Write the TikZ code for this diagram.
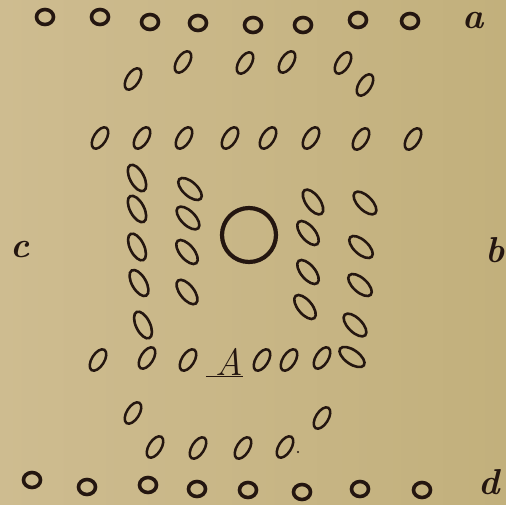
\documentclass[tikz,border=0pt]{standalone}
\usepackage{xcolor}
\usepackage{tikz}
\usetikzlibrary{shapes.geometric, positioning}

\definecolor{paper}{RGB}{206,188,144}
\definecolor{paperdark}{RGB}{194,176,124}
\definecolor{ink}{RGB}{36,22,16}

\begin{document}
\begin{tikzpicture}[
        x=1pt, y=-1pt,
        ring/.style={ellipse, draw=ink, line width=3.6pt, minimum width=17pt, minimum height=15pt, inner sep=0pt},
        grain/.style={ellipse, draw=ink, line width=2.5pt, minimum width=12.5pt, minimum height=24pt, inner sep=0pt, rotate=-32},
        pod/.style={ellipse, draw=ink, line width=2.6pt, minimum width=14pt, minimum height=29pt, inner sep=0pt},
        letter/.style={text=ink, inner sep=0pt, font=\fontsize{36}{36}\selectfont\bfseries\itshape}
    ]
    % Paper
    \shade[left color=paper, right color=paperdark] (0,0) rectangle (506,504);
    \useasboundingbox (0,0) rectangle (506,504);

    % Outer rows
    \foreach \x/\y [count=\i] in {45/17, 100/17, 150/22, 198/23, 253/25, 303/25, 358/20, 410/21}
        \node [ring] (top\i) at (\x,\y) {};
    \foreach \x/\y [count=\i] in {32/480, 87/487, 148/485, 197/489, 248/490, 302/492, 360/489, 422/490}
        \node [ring] (bottom\i) at (\x,\y) {};

    % Upper rows of grains
    \foreach \x/\y [count=\i] in {133/79, 183/62, 245/63, 287/62, 343/63, 365/85}
        \node [grain] (upper\i) at (\x,\y) {};
    \foreach \x/\y [count=\i] in {100/138, 142/138, 184/138, 230/138, 268/138, 311/138, 361/139, 413/139}
        \node [grain] (middle\i) at (\x,\y) {};

    % Columns round the centre
    \foreach \x/\y/\r [count=\i] in {137/178/28, 137/209/28, 137/247/26, 139/283/30, 143/325/26}
        \node [pod, rotate=\r] (westA\i) at (\x,\y) {};
    \foreach \x/\y/\r [count=\i] in {190/189/48, 188/218/45, 187/252/40, 187/292/38}
        \node [pod, rotate=\r] (westB\i) at (\x,\y) {};
    \foreach \x/\y/\r [count=\i] in {313/202/36, 308/233/40, 308/272/40, 305/307/40}
        \node [pod, rotate=\r] (eastA\i) at (\x,\y) {};
    \foreach \x/\y/\r [count=\i] in {365/203/45, 361/247/48, 360/285/48, 355/325/45}
        \node [pod, rotate=\r] (eastB\i) at (\x,\y) {};

    \node [circle, draw=ink, line width=4.2pt, minimum size=54pt, inner sep=0pt] (hub) at (249,235) {};

    % Lower rows of grains
    \foreach \x/\y [count=\i] in {98/360, 147/358, 188/360, 262/360, 289/360, 322/358}
        \node [grain] (lower\i) at (\x,\y) {};
    \node [pod, rotate=55] (corner) at (352,357) {};
    \node [grain] (stray1) at (133,413) {};
    \node [grain] (stray2) at (322,418) {};
    \foreach \x/\y [count=\i] in {155/447, 198/448, 243/448, 285/447}
        \node [grain] (base\i) at (\x,\y) {};
    \node [circle, fill=ink, inner sep=0pt, minimum size=2.4pt] (speck) at (298,452) {};

    % Letters
    \node [letter] (a) at (473,21) {a};
    \node [letter] (b) at (495,250) {b};
    \node [letter] (c) at (20,250) {c};
    \node [letter] (d) at (489,482) {d};
    \node [text=ink, inner sep=0pt, font=\fontsize{38}{38}\selectfont\itshape] (A) at (229,362) {A};
    \draw [ink, line width=1.3pt] ([xshift=-9pt, yshift=-1pt]A.south west) -- ([yshift=-1pt]A.south east);
\end{tikzpicture}
\end{document}
